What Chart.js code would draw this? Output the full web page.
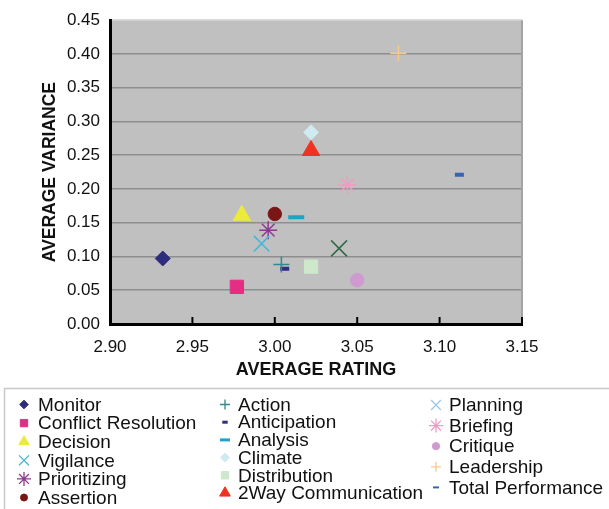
<!DOCTYPE html>
<html>
<head>
<meta charset="utf-8">
<script src="https://cdn.jsdelivr.net/npm/chart.js@4"></script>
<style>
  body { margin: 0; background: #fff; }
</style>
</head>
<body>
<canvas id="scatterChart" width="609" height="509"></canvas>
<script>
// categories and values
const categories = ['Monitor', 'Conflict Resolution', 'Decision', 'Vigilance', 'Prioritizing', 'Assertion',
  'Action', 'Anticipation', 'Analysis', 'Climate', 'Distribution', '2Way Communication',
  'Planning', 'Briefing', 'Critique', 'Leadership', 'Total Performance'];
const avgRating = [2.932, 2.977, 2.980, 2.992, 2.996, 3.000,
  3.004, 3.006, 3.013, 3.022, 3.022, 3.022,
  3.039, 3.044, 3.050, 3.075, 3.112];
const avgVariance = [0.097, 0.055, 0.161, 0.119, 0.139, 0.163,
  0.088, 0.082, 0.158, 0.284, 0.085, 0.257,
  0.112, 0.206, 0.065, 0.401, 0.221];
const xTicks = [2.90, 2.95, 3.00, 3.05, 3.10, 3.15];
const yTicks = [0.00, 0.05, 0.10, 0.15, 0.20, 0.25, 0.30, 0.35, 0.40, 0.45];

// styles
const colors = ['#2E2C7C', '#E52D84', '#ECEA3A', '#44B7D6', '#8B3A8F', '#7B1616',
  '#2D8B8B', '#2E2E80', '#20A2C8', '#CFEAF0', '#CDE8CB', '#EE3322',
  '#2D6B45', '#F29AC4', '#CF9ACF', '#F5C98E', '#3465B5'];
const legendColors = colors.slice();
legendColors[12] = '#9CC8E8'; // planning shows light blue in the key
const shapes = ['rectRot', 'rect', 'triangle', 'crossRot', 'star', 'circle',
  'cross', 'line', 'line', 'rectRot', 'rect', 'triangle',
  'crossRot', 'star', 'circle', 'cross', 'line'];
const radii = [7.5, 9.4, 10, 11, 9, 6.7, 8, 4.5, 8, 7.5, 9.4, 10, 11.3, 9, 6.7, 8, 4.5];
const widths = [1, 1, 1, 1.5, 1.5, 1, 1.5, 4, 4, 1, 1, 1, 1.5, 1.5, 1, 1.5, 4];
const legendRadii = [4.3, 5.2, 6, 7, 7, 3.5, 5, 2.7, 5, 4.5, 5.2, 6.2, 7, 7, 3.6, 5, 3];
const legendWidths = [1, 1, 1, 1.3, 1.3, 1, 1.3, 3, 3, 1, 1, 1, 1.3, 1.3, 1, 1.3, 2];

const FONT = "'Liberation Sans', Arial, sans-serif";

const datasets = categories.map((name, i) => ({
  label: name,
  data: [{ x: avgRating[i], y: avgVariance[i] }],
  pointStyle: shapes[i],
  pointRadius: radii[i],
  pointHoverRadius: radii[i],
  pointBorderWidth: widths[i],
  backgroundColor: colors[i],
  borderColor: colors[i]
}));

// grey plot background
const plotBackground = {
  id: 'plotBackground',
  beforeDraw(chart) {
    const { ctx, chartArea: a } = chart;
    ctx.save();
    ctx.fillStyle = '#C0C0C0';
    ctx.fillRect(a.left, a.top, a.right - a.left, a.bottom - a.top);
    ctx.restore();
  }
};

// right edge line and inward x ticks
const plotFrame = {
  id: 'plotFrame',
  afterDraw(chart) {
    const { ctx, chartArea: a } = chart;
    const xs = chart.scales.x;
    ctx.save();
    ctx.strokeStyle = '#A3A3A3';
    ctx.lineWidth = 2;
    ctx.beginPath();
    ctx.moveTo(a.right, a.top);
    ctx.lineTo(a.right, a.bottom);
    ctx.stroke();
    ctx.strokeStyle = '#000';
    ctx.lineWidth = 2;
    xTicks.slice(1).forEach(v => {
      const px = xs.getPixelForValue(v);
      ctx.beginPath();
      ctx.moveTo(px, a.bottom);
      ctx.lineTo(px, a.bottom - 7);
      ctx.stroke();
    });
    ctx.restore();
  }
};

// boxed three-column key
const keyBox = {
  id: 'keyBox',
  afterDraw(chart) {
    const ctx = chart.ctx;
    const cols = [
      { from: 0, to: 6, mx: 24, tx: 38, y0: 404.5, dy: 18.6 },
      { from: 6, to: 12, mx: 225, tx: 238, y0: 404.5, dy: 17.7 },
      { from: 12, to: 17, mx: 436, tx: 449, y0: 405, dy: 20.6 }
    ];
    ctx.save();
    ctx.strokeStyle = '#C8C8C8';
    ctx.lineWidth = 1.5;
    ctx.strokeRect(4.5, 388.5, 700, 200);
    ctx.font = '19px ' + FONT;
    ctx.textBaseline = 'middle';
    ctx.textAlign = 'left';
    cols.forEach(c => {
      for (let i = c.from; i < c.to; i++) {
        const y = c.y0 + (i - c.from) * c.dy;
        ctx.fillStyle = legendColors[i];
        ctx.strokeStyle = legendColors[i];
        ctx.lineWidth = legendWidths[i];
        Chart.helpers.drawPoint(ctx, {
          pointStyle: shapes[i],
          radius: legendRadii[i],
          borderWidth: legendWidths[i],
          rotation: 0
        }, c.mx, y);
        ctx.fillStyle = '#111';
        ctx.fillText(categories[i], c.tx, y + 1);
      }
    });
    ctx.restore();
  }
};

new Chart(document.getElementById('scatterChart'), {
  type: 'scatter',
  data: { datasets: datasets },
  plugins: [plotBackground, plotFrame, keyBox],
  options: {
    responsive: false,
    animation: false,
    layout: { padding: { left: 37, top: 16, right: 87, bottom: 121 } },
    plugins: {
      legend: { display: false },
      tooltip: { enabled: false }
    },
    scales: {
      x: {
        type: 'linear',
        min: xTicks[0],
        max: xTicks[xTicks.length - 1],
        afterFit: s => { s.height = 64; },
        afterBuildTicks: s => { s.ticks = xTicks.map(v => ({ value: v })); },
        grid: { drawOnChartArea: false, drawTicks: false },
        border: { color: '#000', width: 3 },
        ticks: {
          padding: 13,
          color: '#111',
          font: { family: FONT, size: 17 },
          callback: v => v.toFixed(2)
        },
        title: {
          display: true,
          text: 'AVERAGE RATING',
          color: '#111',
          padding: { top: 0, bottom: 7 },
          font: { family: FONT, size: 18, weight: 'bold' }
        }
      },
      y: {
        type: 'linear',
        min: yTicks[0],
        max: yTicks[yTicks.length - 1],
        afterFit: s => { s.width = 73; },
        afterBuildTicks: s => { s.ticks = yTicks.map(v => ({ value: v })); },
        grid: {
          drawTicks: false,
          lineWidth: 1.5,
          color: c => {
            const v = c.tick ? c.tick.value : 0;
            if (v < 0.001) return 'rgba(0,0,0,0)';
            if (v > 0.449) return '#DADADA';
            return '#8E8E8E';
          }
        },
        border: { color: '#000', width: 3 },
        ticks: {
          padding: 10,
          color: '#111',
          font: { family: FONT, size: 17 },
          callback: v => v.toFixed(2)
        },
        title: {
          display: true,
          text: 'AVERAGE VARIANCE',
          color: '#111',
          padding: { top: 3, bottom: 0 },
          font: { family: FONT, size: 17.5, weight: 'bold' }
        }
      }
    }
  }
});
</script>
</body>
</html>
